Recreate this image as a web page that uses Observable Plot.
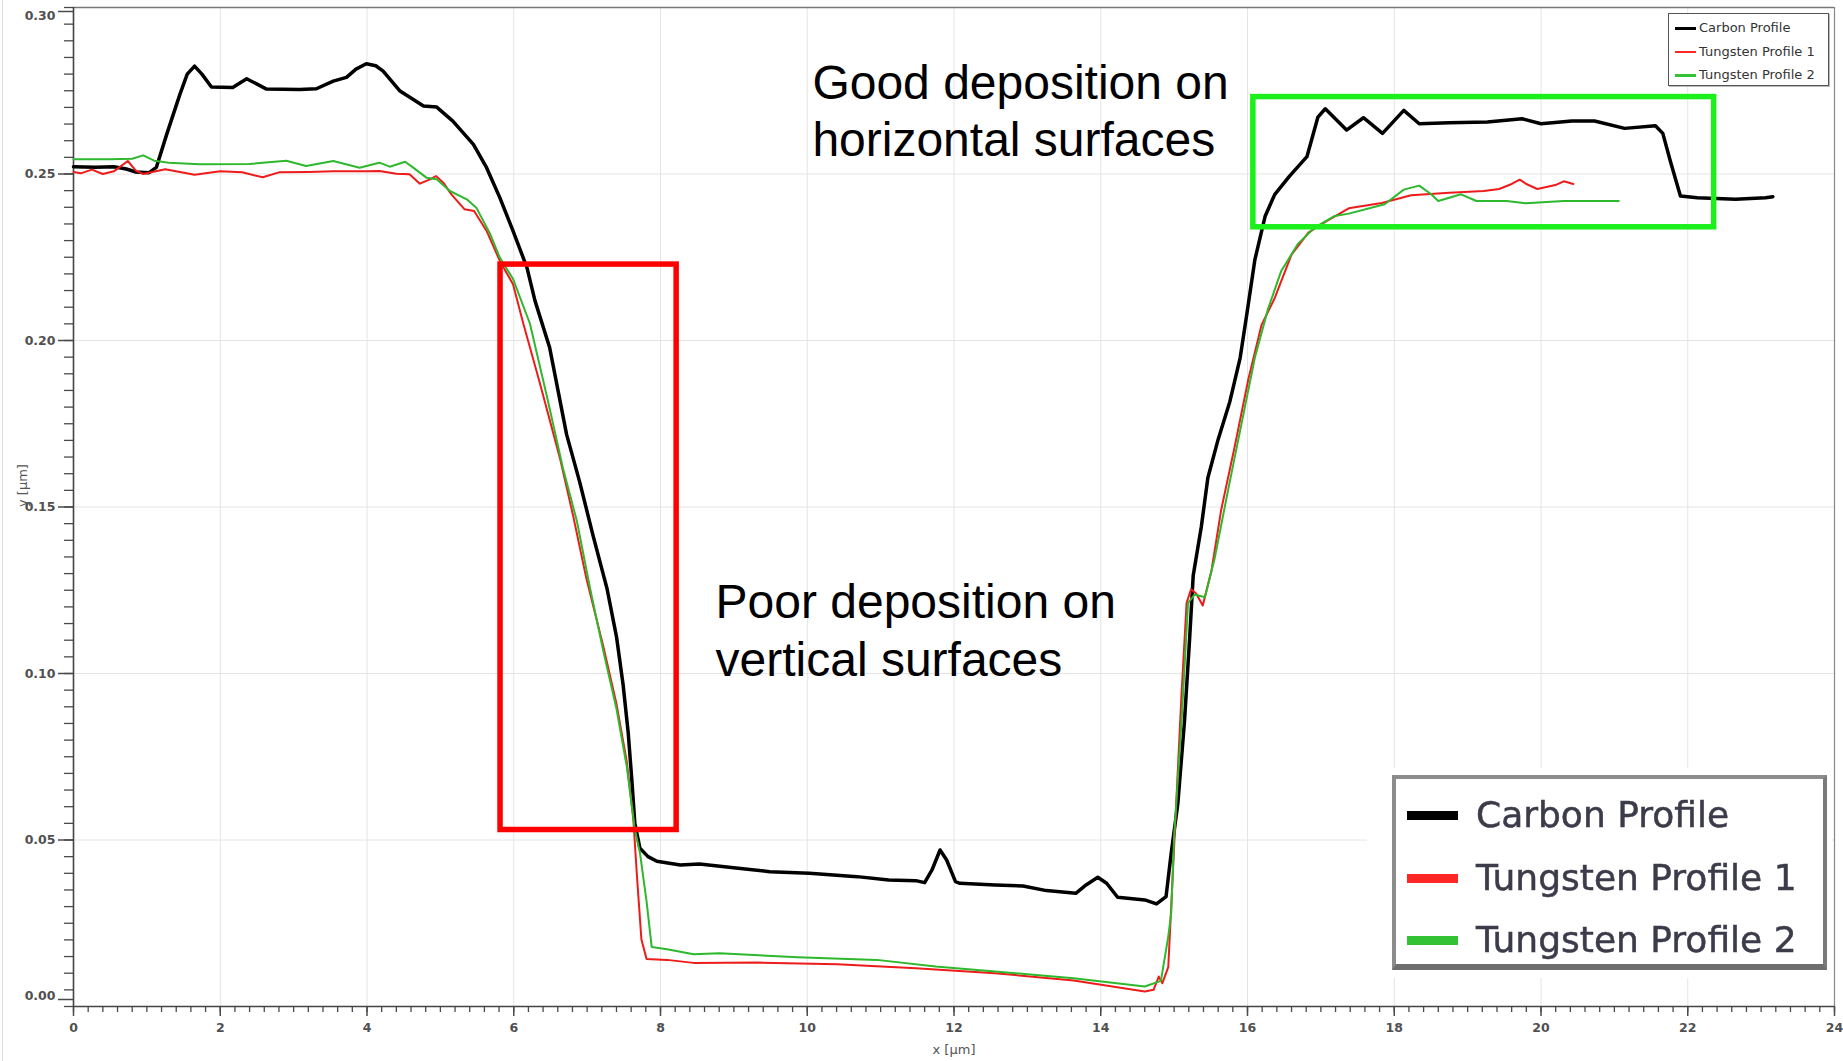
<!DOCTYPE html>
<html>
<head>
<meta charset="utf-8">
<script src="https://cdn.jsdelivr.net/npm/d3@7"></script>
<script src="https://cdn.jsdelivr.net/npm/@observablehq/plot@0.6"></script>
<style>
  html, body { margin: 0; padding: 0; background: #fff; }
  #wrap { position: relative; width: 1843px; height: 1061px; overflow: hidden; }
  #edge { position: absolute; left: 2px; top: 0; width: 1px; height: 1061px; background: #dcdcdc; }
  .lg-small { position: absolute; left: 1668px; top: 13px; width: 159px; height: 71px;
    border: 1px solid #555; background: #fff; box-shadow: 1px 1px 0 #bbb;
    font-family: "DejaVu Sans", sans-serif; font-size: 13px; color: #333; }
  .lg-small .row { position: absolute; left: 0; height: 20px; line-height: 20px; white-space: nowrap; }
  .lg-small .sw { position: absolute; left: 6px; top: 9px; width: 21px; height: 2.5px; }
  .lg-small .tx { position: absolute; left: 30px; top: 0; }
  .lg-big-bg { position: absolute; left: 1367px; top: 768px; width: 465px; height: 210px; background: #fff; }
  .lg-big { position: absolute; left: 1392px; top: 775px; width: 427px; height: 185px;
    border: 4px solid #8c8c8c; border-bottom: 6px solid #6e6e6e; border-right: 4px solid #7a7a7a; background: #fff;
    font-family: "DejaVu Sans", sans-serif; font-size: 36px; color: #3b3b4a; }
  .lg-big .row { position: absolute; left: 0; height: 44px; line-height: 44px; white-space: nowrap; }
  .lg-big .sw { position: absolute; left: 11px; top: 18px; width: 51px; height: 9px; }
  .lg-big .tx { position: absolute; left: 80px; top: 0; filter: blur(0.4px); -webkit-text-stroke: 0.5px #3b3b4a; }
</style>
</head>
<body>
<div id="wrap">
  <div id="chart"></div>
  <div id="edge"></div>
</div>
<script>
// ---------- data (x in µm, y in µm) ----------
const seriesNames = ["Carbon Profile", "Tungsten Profile 1", "Tungsten Profile 2"];
const seriesColors = ["#000000", "#ee1b1b", "#2db82d"];
const legendColors = ["#000000", "#ff2626", "#33c233"];

const carbonProfile = [
  [0.00,0.2522],[0.30,0.2520],[0.55,0.2522],[0.72,0.2515],[0.85,0.2506],[1.03,0.2504],[1.13,0.2520],
  [1.27,0.2619],[1.45,0.2739],[1.55,0.2800],[1.65,0.2824],[1.75,0.2800],[1.88,0.2761],[2.17,0.2760],
  [2.36,0.2786],[2.63,0.2755],[3.08,0.2754],[3.31,0.2756],[3.54,0.2779],[3.72,0.2790],[3.85,0.2815],
  [3.99,0.2831],[4.12,0.2825],[4.22,0.2809],[4.45,0.2749],[4.77,0.2704],[4.95,0.2701],[5.17,0.2659],
  [5.45,0.2589],[5.63,0.2519],[5.81,0.2429],[5.99,0.2329],[6.18,0.2219],[6.29,0.2119],[6.49,0.1978],
  [6.72,0.1718],[6.90,0.1574],[7.08,0.1415],[7.27,0.1256],[7.40,0.1111],[7.49,0.0967],[7.56,0.0822],
  [7.61,0.0678],[7.65,0.0550],[7.72,0.0475],[7.83,0.0450],[7.95,0.0436],[8.27,0.0425],[8.53,0.0428],
  [9.06,0.0415],[9.49,0.0405],[10.03,0.0400],[10.68,0.0390],[11.11,0.0380],[11.48,0.0378],[11.60,0.0372],
  [11.70,0.0410],[11.81,0.0470],[11.90,0.0440],[12.02,0.0375],[12.08,0.0370],[12.56,0.0365],[12.94,0.0362],
  [13.26,0.0348],[13.66,0.0340],[13.80,0.0365],[13.96,0.0388],[14.08,0.0370],[14.23,0.0328],[14.60,0.0320],
  [14.76,0.0308],[14.89,0.0330],[14.96,0.0460],[15.05,0.0608],[15.14,0.0853],[15.21,0.1100],[15.26,0.1294],
  [15.37,0.1440],[15.46,0.1588],[15.60,0.1703],[15.76,0.1817],[15.90,0.1948],[15.99,0.2078],[16.10,0.2242],
  [16.24,0.2373],[16.37,0.2438],[16.57,0.2493],[16.81,0.2552],[16.96,0.2671],[17.06,0.2696],[17.35,0.2632],
  [17.58,0.2669],[17.84,0.2622],[18.13,0.2691],[18.34,0.2651],[18.75,0.2654],[19.27,0.2656],[19.74,0.2666],
  [20.00,0.2651],[20.42,0.2659],[20.73,0.2659],[21.14,0.2637],[21.56,0.2645],[21.66,0.2622],[21.77,0.2533],
  [21.90,0.2434],[22.13,0.2429],[22.65,0.2424],[23.06,0.2429],[23.16,0.2432]
];

const tungstenProfile1 = [
  [0.00,0.2506],[0.10,0.2502],[0.25,0.2513],[0.40,0.2500],[0.55,0.2508],[0.74,0.2539],[0.85,0.2510],
  [0.95,0.2500],[1.25,0.2514],[1.65,0.2498],[2.00,0.2508],[2.30,0.2505],[2.58,0.2490],[2.80,0.2505],
  [3.20,0.2506],[3.54,0.2508],[4.00,0.2508],[4.17,0.2509],[4.40,0.2501],[4.58,0.2499],[4.72,0.2471],
  [4.86,0.2484],[4.94,0.2494],[5.04,0.2474],[5.15,0.2439],[5.33,0.2394],[5.46,0.2389],[5.63,0.2329],
  [5.81,0.2239],[5.99,0.2169],[6.13,0.2051],[6.35,0.1877],[6.63,0.1646],[6.81,0.1473],[6.99,0.1285],
  [7.22,0.1082],[7.40,0.0909],[7.54,0.0736],[7.63,0.0562],[7.68,0.0389],[7.74,0.0201],[7.81,0.0143],
  [8.09,0.0140],[8.45,0.0131],[9.33,0.0132],[10.41,0.0127],[11.48,0.0115],[12.56,0.0100],[13.63,0.0078],
  [14.60,0.0045],[14.72,0.0050],[14.79,0.0090],[14.84,0.0070],[14.92,0.0118],[15.01,0.0526],[15.10,0.0935],
  [15.17,0.1212],[15.23,0.1253],[15.30,0.1240],[15.39,0.1204],[15.51,0.1310],[15.64,0.1490],[15.83,0.1686],
  [16.01,0.1882],[16.19,0.2046],[16.37,0.2127],[16.60,0.2258],[16.83,0.2324],[17.06,0.2356],[17.38,0.2397],
  [17.83,0.2413],[18.23,0.2436],[18.75,0.2444],[19.22,0.2449],[19.43,0.2455],[19.60,0.2470],[19.71,0.2483],
  [19.80,0.2470],[19.95,0.2455],[20.21,0.2468],[20.31,0.2478],[20.44,0.2470]
];

const tungstenProfile2 = [
  [0.00,0.2544],[0.50,0.2544],[0.80,0.2546],[0.95,0.2556],[1.10,0.2540],[1.30,0.2534],[1.72,0.2529],
  [2.40,0.2530],[2.90,0.2540],[3.17,0.2524],[3.54,0.2539],[3.90,0.2519],[4.10,0.2530],[4.17,0.2534],
  [4.31,0.2522],[4.52,0.2537],[4.63,0.2519],[4.81,0.2489],[4.95,0.2484],[5.13,0.2449],[5.36,0.2424],
  [5.49,0.2399],[5.68,0.2319],[5.81,0.2249],[5.99,0.2185],[6.22,0.2051],[6.45,0.1834],[6.67,0.1617],
  [6.86,0.1458],[7.04,0.1256],[7.22,0.1068],[7.40,0.0894],[7.54,0.0721],[7.65,0.0533],[7.72,0.0461],
  [7.81,0.0316],[7.88,0.0179],[8.09,0.0172],[8.45,0.0157],[8.80,0.0160],[9.87,0.0148],[10.95,0.0140],
  [11.75,0.0120],[12.56,0.0105],[13.63,0.0085],[14.60,0.0060],[14.82,0.0077],[14.92,0.0210],[14.96,0.0280],
  [15.00,0.0510],[15.10,0.0853],[15.19,0.1212],[15.28,0.1237],[15.42,0.1229],[15.55,0.1343],[15.74,0.1556],
  [15.92,0.1752],[16.10,0.1948],[16.28,0.2095],[16.46,0.2209],[16.69,0.2291],[16.92,0.2340],[17.19,0.2374],
  [17.38,0.2381],[17.87,0.2409],[18.13,0.2453],[18.34,0.2465],[18.50,0.2440],[18.60,0.2419],[18.91,0.2439],
  [19.12,0.2419],[19.53,0.2419],[19.79,0.2412],[20.31,0.2419],[20.73,0.2419],[21.06,0.2419]
];

// annotation boxes (data units) and texts
const boxX1 = [5.82, 16.08];
const boxX2 = [8.22, 22.36];
const boxY1 = [0.0530, 0.2340];
const boxY2 = [0.2228, 0.2731];
const boxColors = ["#ff0000", "#1cf01c"];

const noteText = ["Good deposition on\nhorizontal surfaces", "Poor deposition on\nvertical surfaces"];
const noteX = [10.07, 8.75];
const noteY = [0.2695, 0.1135];

// axes ticks
const xMajor = [0, 2, 4, 6, 8, 10, 12, 14, 16, 18, 20, 22, 24];
const xGrid = [2, 4, 6, 8, 10, 12, 14, 16, 18, 20, 22];
const yMid = [0.05, 0.10, 0.15, 0.20, 0.25];
const xMinor = d3.range(0, 24.0001, 0.2);
const yMinor = d3.range(0, 0.30001, 0.005);

// ---------- chart ----------
const boxes = boxX1.map((d, i) => ({x1: d, x2: boxX2[i], y1: boxY1[i], y2: boxY2[i], c: boxColors[i]}));
const notes = noteText.map((t, i) => ({t, x: noteX[i], y: noteY[i]}));
const fmt = d3.format(".2f");
const tickColor = "#4a4a4a";
const labelColor = "#505050";
const tickFont = "DejaVu Sans, sans-serif";
const lab = {color: tickColor, fill: labelColor, fontSize: 12.5, fontWeight: "bold", strokeWidth: 1.5};

const chart = Plot.plot({
  width: 1843,
  height: 1061,
  marginLeft: 73,
  marginRight: 9,
  marginTop: 7,
  marginBottom: 55,
  style: {background: "#fff", fontFamily: tickFont, fontSize: "13px", overflow: "visible"},
  x: {domain: [0, 24], label: null},
  y: {domain: [0, 0.30], label: null},
  marks: [
    Plot.gridX(xGrid, {stroke: "#e4e4e4", strokeOpacity: 1}),
    Plot.gridY(yMid, {stroke: "#e4e4e4", strokeOpacity: 1}),
    Plot.ruleY([0.30], {stroke: "#777", strokeWidth: 1.5}),
    Plot.ruleX([24], {stroke: "#888", strokeWidth: 1.2}),
    // minor ticks
    Plot.axisY(yMinor, {tickSize: 9, tickFormat: () => "", color: tickColor, strokeWidth: 1.3}),
    Plot.axisX(xMinor, {tickSize: 6, tickFormat: () => "", color: tickColor, strokeWidth: 1.3}),
    // major ticks + labels
    Plot.axisY(yMid, {tickSize: 15, tickPadding: 3, tickFormat: fmt, ...lab}),
    Plot.axisY([0.30], {tickSize: 15, tickPadding: 3, tickFormat: fmt, ...lab, lineAnchor: "top", dy: 4}),
    Plot.axisY([0.00], {tickSize: 15, tickPadding: 3, tickFormat: fmt, ...lab, lineAnchor: "bottom", dy: -7}),
    Plot.axisX(xMajor, {tickSize: 10, tickPadding: 7, tickFormat: d => String(d), ...lab}),
    Plot.ruleX([0], {stroke: "#444", strokeWidth: 1.6}),
    Plot.ruleY([0], {stroke: "#444", strokeWidth: 1.6}),
    // axis titles
    Plot.text(["x [µm]"], {frameAnchor: "bottom", dy: 47, fill: "#555", fontSize: 13, fontFamily: tickFont}),
    Plot.text(["y [µm]"], {frameAnchor: "left", dx: -51, rotate: -90, fill: "#555", fontSize: 13, fontFamily: tickFont}),
    // profiles
    Plot.line(carbonProfile, {x: d => d[0], y: d => d[1], stroke: seriesColors[0], strokeWidth: 3.5}),
    Plot.line(tungstenProfile1, {x: d => d[0], y: d => d[1], stroke: seriesColors[1], strokeWidth: 2}),
    Plot.line(tungstenProfile2, {x: d => d[0], y: d => d[1], stroke: seriesColors[2], strokeWidth: 2}),
    // annotation boxes
    Plot.rect(boxes, {x1: "x1", x2: "x2", y1: "y1", y2: "y2", stroke: "c", fill: "none", strokeWidth: 5.5}),
    Plot.text(notes, {x: "x", y: "y", text: "t", textAnchor: "start", lineAnchor: "middle", lineHeight: 1.2,
      fontSize: 48, fill: "#000", fontFamily: "Liberation Sans, Arial, sans-serif"})
  ]
});
const wrap = document.getElementById("wrap");
document.getElementById("chart").appendChild(chart);

// small legend (top right)
const small = document.createElement("div");
small.className = "lg-small";
seriesNames.forEach((n, i) => {
  const r = document.createElement("div");
  r.className = "row";
  r.style.top = (4 + i * 23.5) + "px";
  r.style.width = "100%";
  r.innerHTML = `<div class="sw" style="background:${legendColors[i]}"></div><div class="tx">${n}</div>`;
  small.appendChild(r);
});
wrap.appendChild(small);

// big legend (bottom right)
const bg = document.createElement("div");
bg.className = "lg-big-bg";
wrap.appendChild(bg);
const big = document.createElement("div");
big.className = "lg-big";
seriesNames.forEach((n, i) => {
  const r = document.createElement("div");
  r.className = "row";
  r.style.top = (14 + i * 62.5) + "px";
  r.style.width = "100%";
  r.innerHTML = `<div class="sw" style="background:${legendColors[i]}"></div><div class="tx">${n}</div>`;
  big.appendChild(r);
});
wrap.appendChild(big);
</script>
</body>
</html>
